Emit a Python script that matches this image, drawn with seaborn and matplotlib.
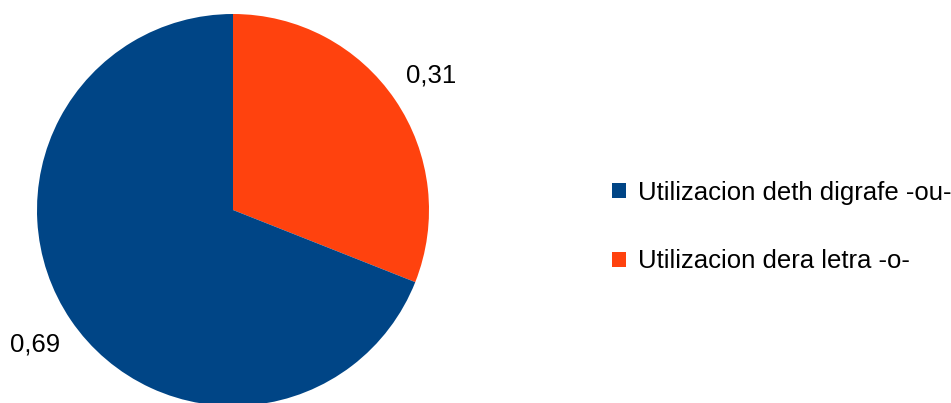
import matplotlib
matplotlib.use("Agg")
import matplotlib.pyplot as plt
from matplotlib.patches import Patch
import seaborn as sns

categories = ["Utilizacion deth digrafe -ou-", "Utilizacion dera letra -o-"]
shares = [0.69, 0.31]
value_labels = ["0,69", "0,31"]
colors = ["#004586", "#ff420e"]

sns.set_theme(style="white")
plt.rcParams["font.family"] = ["Liberation Sans", "DejaVu Sans"]
plt.rcParams["text.color"] = "black"

W, H = 951, 403
fig = plt.figure(figsize=(W / 100, H / 100), dpi=100)
ax = fig.add_axes([0, 0, 1, 1])

# Orange slice first clockwise from 12 o'clock, then the blue one
order = [1, 0]
wedges, texts = ax.pie(
    [shares[i] for i in order],
    colors=[colors[i] for i in order],
    labels=[value_labels[i] for i in order],
    labeldistance=1.22,
    startangle=90,
    counterclock=False,
    center=(233, 193),
    radius=196,
    frame=True,
    textprops=dict(fontsize=18.5, color="black"),
    wedgeprops=dict(linewidth=0),
)
for t in texts:
    t.set_ha("center")
    t.set_va("center")
ax.set_xlim(0, W)
ax.set_ylim(0, H)
ax.set_aspect("equal")
ax.axis("off")

handles = [Patch(facecolor=c, edgecolor="none") for c in colors]
leg = fig.legend(
    handles, categories,
    loc="center left",
    bbox_to_anchor=(612 / W, 1 - 227 / H),
    frameon=False,
    fontsize=18.5,
    handlelength=0.55,
    handleheight=0.55,
    handletextpad=0.45,
    labelspacing=1.75,
    borderpad=0,
    borderaxespad=0,
)
for t in leg.get_texts():
    t.set_color("black")

fig.savefig("out.png", dpi=100)
